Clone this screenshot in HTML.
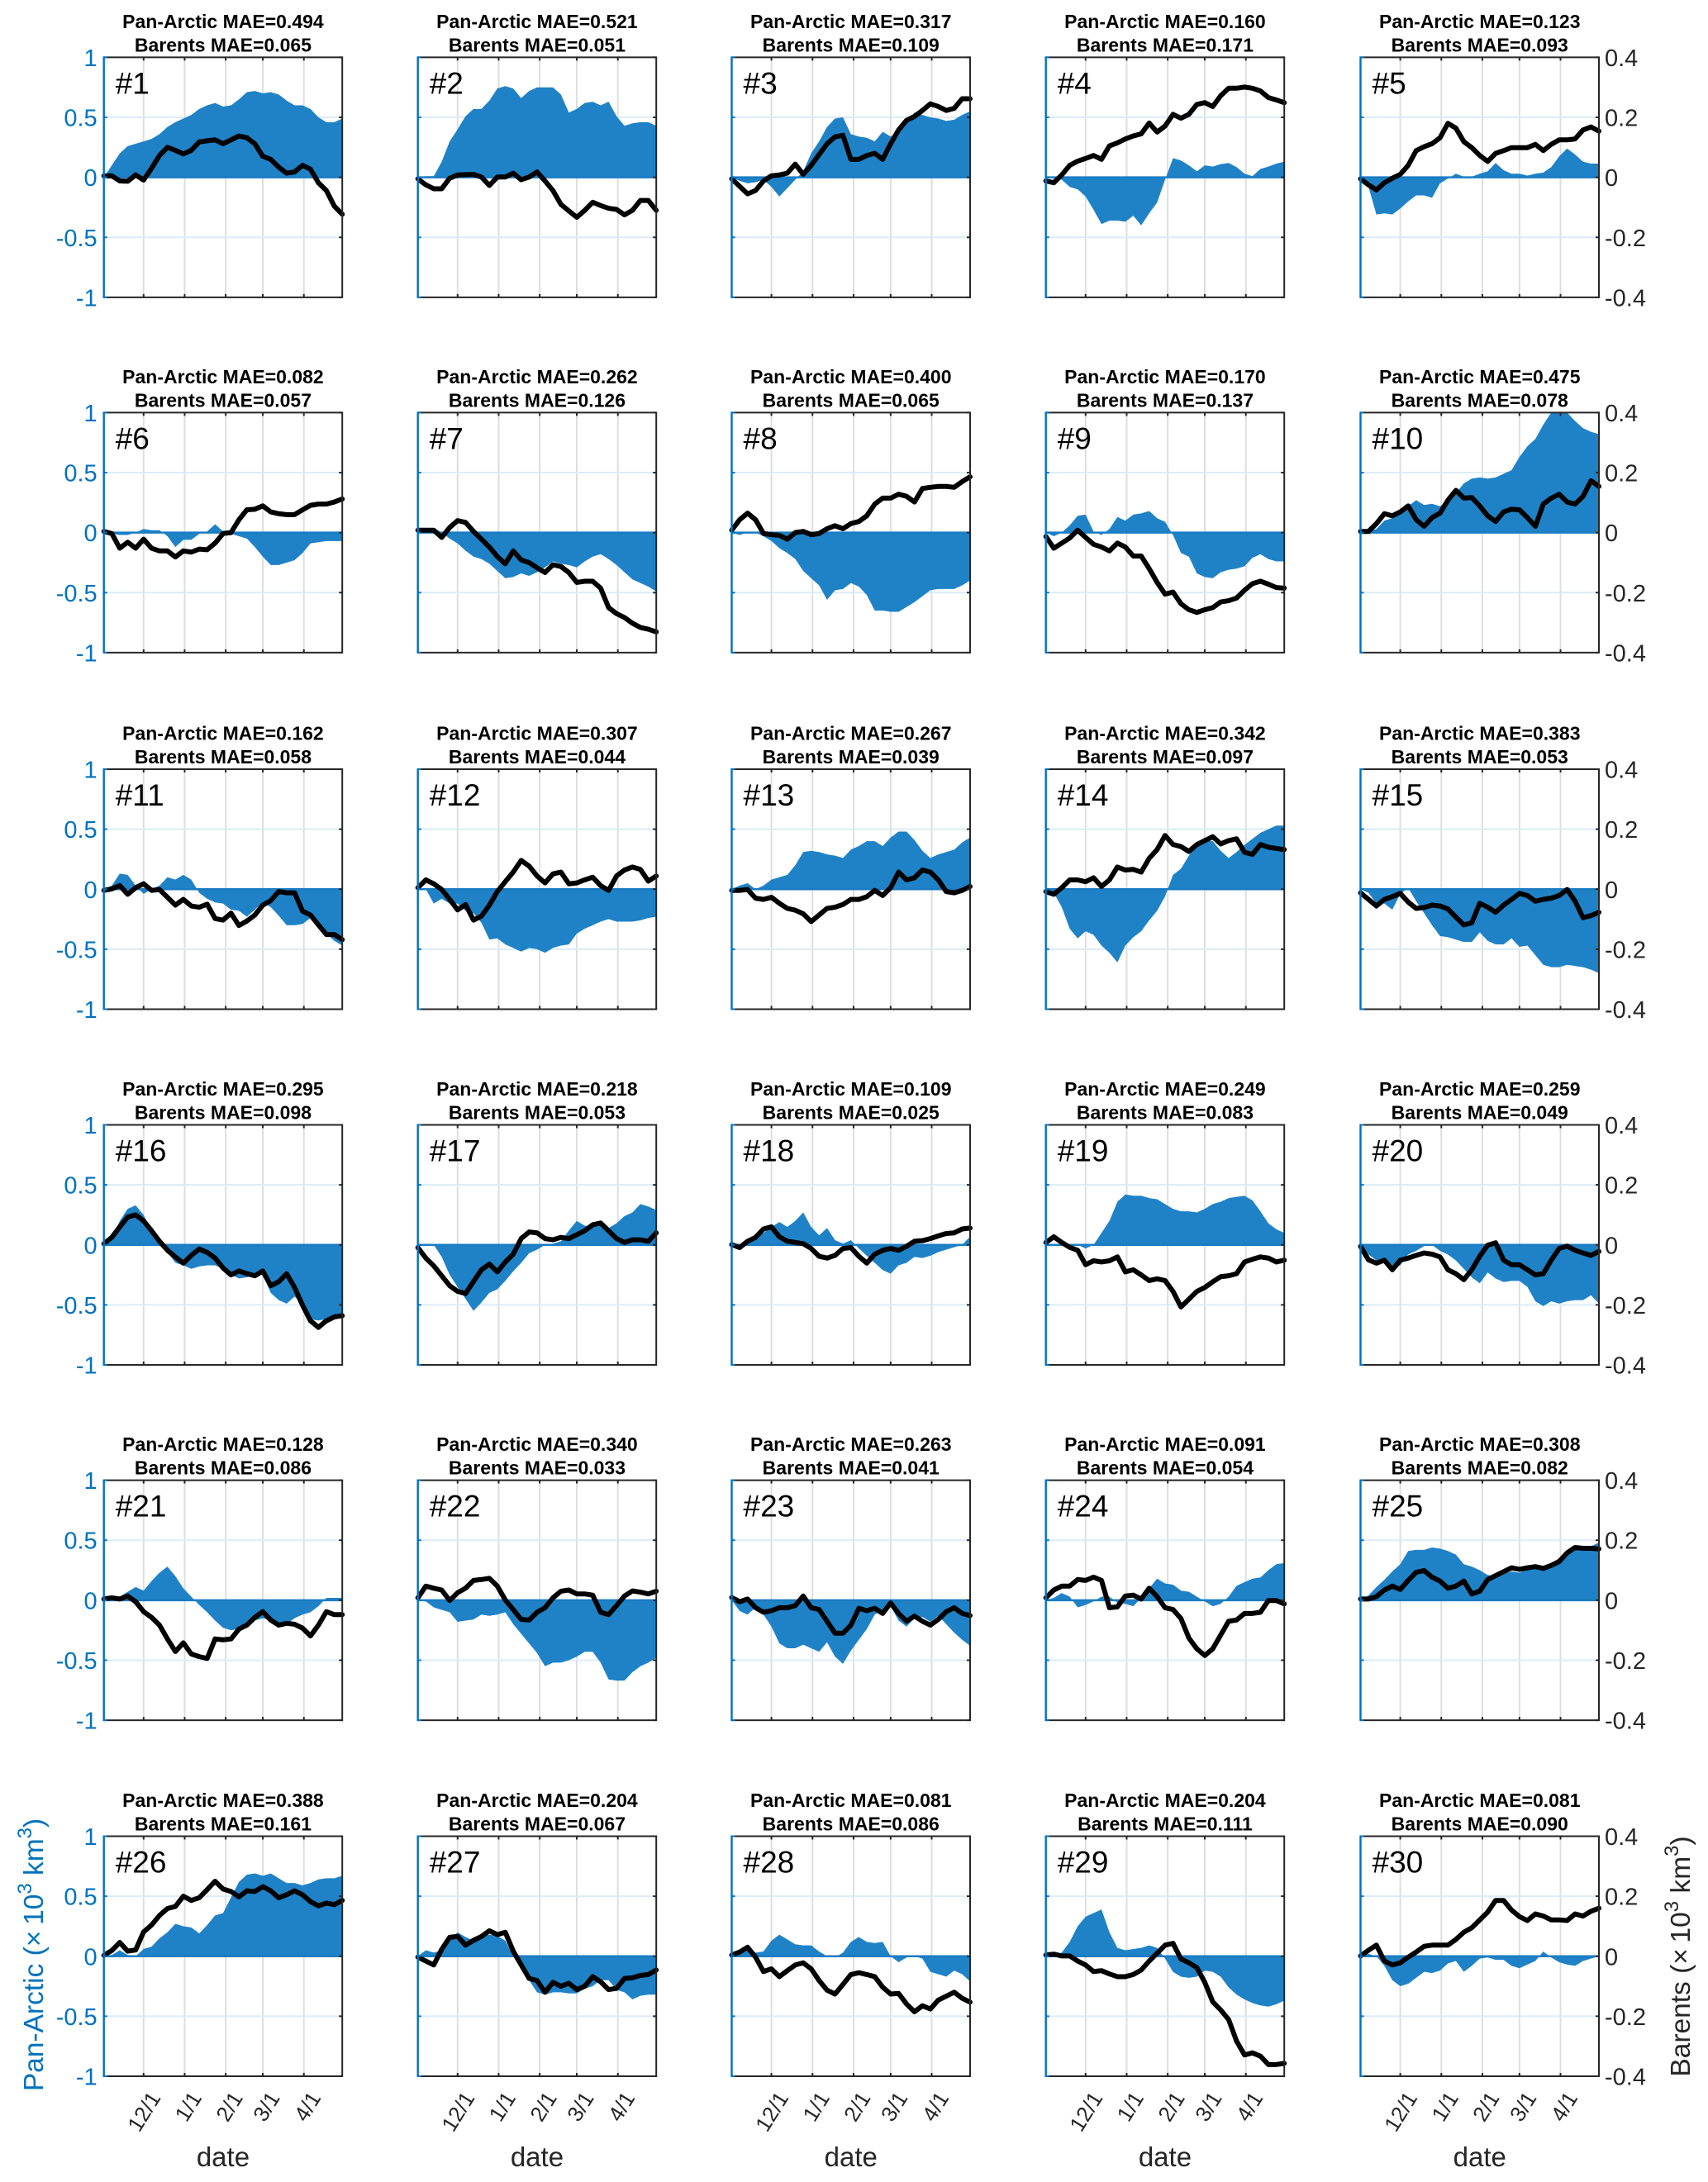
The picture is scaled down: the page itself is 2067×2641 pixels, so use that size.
<!DOCTYPE html>
<html lang="en">
<head>
<meta charset="utf-8">
<title>Pan-Arctic and Barents panels</title>
<style>
html,body{margin:0;padding:0;background:#fff}
svg{display:block}
text{font-family:"Liberation Sans",Arial,sans-serif}
</style>
</head>
<body>
<svg id="figure" xmlns="http://www.w3.org/2000/svg" width="2067" height="2641" viewBox="0 0 2067 2641">
<rect x="0" y="0" width="2067" height="2641" fill="#ffffff"/>
</svg>
<script>
const maePan = [.494,.521,.317,.160,.123,.082,.262,.400,.170,.475,.162,.307,.267,.342,.383,.295,.218,.109,.249,.259,.128,.340,.263,.091,.308,.388,.204,.081,.204,.081];
const maeBar = [.065,.051,.109,.171,.093,.057,.126,.065,.137,.078,.058,.044,.039,.097,.053,.098,.053,.025,.083,.049,.086,.033,.041,.054,.082,.161,.067,.086,.111,.090];
const monthTickDays = [30,61,92,120,151];
const monthTickLabels = ['12/1','1/1','2/1','3/1','4/1'];
const leftTicks = [1,0.5,0,-0.5,-1];
const rightTicks = [0.4,0.2,0,-0.2,-0.4];

const pan1 = [0,.10,.20,.26,.28,.30,.32,.36,.42,.46,.49,.52,.57,.60,.62,.59,.60,.65,.71,.72,.70,.71,.69,.64,.60,.60,.57,.50,.46,.46,.49];
const bar1 = [.005,.005,-.012,-.013,.008,-.009,.03,.073,.1,.09,.078,.09,.118,.122,.125,.112,.125,.138,.132,.112,.07,.06,.034,.014,.018,.04,.027,-.018,-.044,-.096,-.123];
const pan2 = [0,.01,.01,.13,.30,.40,.51,.57,.57,.64,.74,.76,.74,.66,.72,.75,.75,.75,.69,.54,.57,.62,.63,.60,.63,.51,.43,.45,.46,.46,.43];
const bar2 = [-.005,-.025,-.038,-.038,-.003,.008,.009,.01,.001,-.027,.001,.001,.014,-.008,.001,.018,-.012,-.044,-.09,-.112,-.133,-.11,-.083,-.094,-.103,-.107,-.125,-.11,-.077,-.077,-.11];
const pan3 = [0,-.03,-.05,-.04,-.02,-.08,-.16,-.09,-.02,.05,.2,.3,.42,.49,.5,.36,.34,.33,.3,.38,.34,.38,.46,.54,.52,.5,.49,.47,.48,.52,.55];
const bar3 = [-.005,-.03,-.055,-.044,-.012,.005,.008,.014,.044,.01,.04,.076,.112,.135,.14,.06,.06,.073,.08,.06,.112,.158,.19,.203,.223,.245,.236,.223,.23,.262,.262];
const pan4 = [0,-.01,-.02,-.08,-.1,-.16,-.27,-.39,-.36,-.36,-.37,-.32,-.4,-.3,-.21,-.02,.16,.14,.1,.05,.1,.09,.11,.12,.085,.03,.01,.07,.09,.115,.13];
const bar4 = [-.012,-.018,.008,.04,.054,.063,.073,.06,.105,.115,.128,.138,.145,.181,.151,.171,.21,.197,.21,.243,.249,.236,.272,.297,.297,.301,.297,.288,.266,.258,.249];
const pan5 = [0,-.08,-.31,-.3,-.31,-.26,-.2,-.15,-.15,-.17,-.05,-.01,.03,.005,.005,.03,.05,.12,.06,.03,.03,.015,.03,.04,.085,.175,.24,.19,.13,.115,.115];
const bar5 = [-.005,-.025,-.042,-.018,-.003,.01,.04,.089,.102,.112,.132,.18,.164,.119,.099,.073,.053,.08,.089,.099,.099,.099,.11,.089,.11,.125,.125,.128,.158,.168,.154];
const pan6 = [0,-.01,-.02,-.02,0,.03,.02,.02,-.03,-.12,-.06,-.06,-.01,.01,.07,.01,-.01,-.03,-.05,-.12,-.2,-.27,-.27,-.25,-.23,-.17,-.09,-.08,-.07,-.07,-.07];
const bar6 = [.004,-.003,-.052,-.032,-.052,-.022,-.052,-.061,-.061,-.081,-.061,-.065,-.055,-.057,-.035,-.003,0,.043,.076,.078,.089,.069,.063,.06,.06,.076,.091,.095,.095,.102,.112];
const pan7 = [0,.03,.04,0,-.05,-.09,-.15,-.2,-.22,-.26,-.32,-.38,-.37,-.34,-.36,-.33,-.29,-.24,-.26,-.27,-.29,-.24,-.2,-.18,-.22,-.27,-.33,-.39,-.42,-.45,-.49];
const bar7 = [.008,.008,.008,-.016,.017,.04,.034,.004,-.022,-.048,-.08,-.104,-.061,-.091,-.1,-.117,-.133,-.107,-.113,-.133,-.166,-.162,-.162,-.185,-.25,-.27,-.283,-.302,-.316,-.322,-.331];
const pan8 = [0,-.02,0,0,-.03,-.07,-.13,-.17,-.22,-.32,-.38,-.44,-.56,-.48,-.47,-.42,-.45,-.52,-.65,-.65,-.66,-.66,-.62,-.58,-.53,-.48,-.47,-.47,-.47,-.44,-.4];
const bar8 = [.008,.043,.065,.043,-.003,-.007,-.009,-.022,0,.004,-.007,-.003,.013,.023,.013,.03,.037,.056,.095,.115,.115,.128,.121,.102,.147,.151,.154,.154,.151,.17,.186];
const pan9 = [0,-.03,0,.06,.14,.15,.01,-.02,.03,.13,.1,.15,.16,.18,.12,.09,-.02,-.17,-.2,-.34,-.37,-.38,-.33,-.31,-.3,-.28,-.21,-.18,-.22,-.24,-.24];
const bar9 = [-.013,-.052,-.035,-.018,.008,-.016,-.039,-.048,-.061,-.035,-.048,-.078,-.078,-.12,-.166,-.205,-.198,-.237,-.257,-.266,-.257,-.25,-.231,-.227,-.218,-.192,-.17,-.162,-.172,-.183,-.185];
const pan10 = [0,.01,.03,.1,.12,.17,.22,.27,.23,.24,.22,.27,.33,.41,.45,.46,.45,.46,.49,.52,.63,.72,.78,.9,1,1,1,.93,.87,.84,.82];
const bar10 = [.004,.004,.03,.063,.056,.069,.089,.043,.021,.05,.065,.108,.141,.115,.117,.089,.056,.037,.069,.078,.076,.05,.021,.095,.115,.128,.102,.095,.121,.173,.154];
const pan11 = [0,.03,.13,.12,.03,-.04,0,.03,.1,.08,.12,.08,-.03,-.08,-.11,-.12,-.17,-.18,-.23,-.17,-.11,-.15,-.22,-.3,-.3,-.29,-.24,-.3,-.37,-.43,-.47];
const bar11 = [-.004,.001,.012,-.017,.005,.018,-.004,-.001,-.027,-.053,-.034,-.056,-.06,-.05,-.098,-.103,-.08,-.121,-.106,-.086,-.053,-.038,-.008,-.012,-.012,-.073,-.086,-.119,-.151,-.151,-.168];
const pan12 = [0,0,-.12,-.08,-.12,-.12,-.18,-.2,-.28,-.42,-.41,-.46,-.49,-.52,-.49,-.5,-.53,-.49,-.47,-.46,-.37,-.33,-.3,-.27,-.25,-.27,-.27,-.27,-.26,-.24,-.23];
const bar12 = [.005,.031,.018,-.001,-.034,-.069,-.051,-.103,-.09,-.053,-.008,.025,.057,.096,.077,.044,.021,.051,.057,.018,.021,.031,.04,.012,-.004,.044,.064,.074,.066,.027,.044];
const pan13 = [0,.03,.05,0,.03,.08,.1,.12,.2,.31,.32,.31,.29,.28,.26,.33,.36,.4,.4,.36,.43,.48,.48,.41,.32,.26,.29,.31,.33,.39,.43];
const bar13 = [-.004,-.004,-.001,-.03,-.034,-.027,-.047,-.064,-.07,-.082,-.108,-.086,-.064,-.06,-.051,-.034,-.034,-.025,-.004,-.021,.005,.057,.031,.038,.064,.057,.031,-.008,-.012,-.004,.009];
const pan14 = [0,-.03,-.15,-.33,-.41,-.35,-.38,-.47,-.53,-.61,-.47,-.4,-.35,-.26,-.18,-.06,.12,.17,.28,.38,.41,.4,.32,.26,.31,.37,.42,.47,.5,.53,.53];
const bar14 = [-.008,-.017,.005,.031,.031,.025,.038,.009,.031,.074,.064,.066,.057,.103,.132,.179,.149,.142,.126,.149,.162,.175,.151,.162,.168,.123,.116,.149,.14,.136,.132];
const pan15 = [0,-.03,-.12,-.12,-.17,-.04,.01,-.1,-.2,-.3,-.39,-.4,-.42,-.44,-.44,-.36,-.43,-.46,-.46,-.41,-.48,-.47,-.55,-.63,-.65,-.65,-.63,-.64,-.65,-.67,-.7];
const bar15 = [-.012,-.034,-.056,-.034,-.025,-.014,-.043,-.064,-.061,-.053,-.056,-.066,-.093,-.119,-.112,-.047,-.06,-.077,-.053,-.034,-.014,-.021,-.04,-.034,-.03,-.021,-.001,-.04,-.095,-.088,-.077];
const pan16 = [0,.05,.2,.3,.33,.25,.12,.03,-.06,-.15,-.17,-.2,-.18,-.17,-.17,-.2,-.25,-.28,-.27,-.25,-.25,-.4,-.46,-.49,-.43,-.5,-.62,-.63,-.62,-.6,-.58];
const bar16 = [.004,.025,.06,.093,.1,.08,.047,.012,-.018,-.04,-.061,-.035,-.014,-.025,-.044,-.077,-.1,-.087,-.096,-.103,-.087,-.136,-.123,-.096,-.142,-.201,-.253,-.275,-.253,-.24,-.236];
const pan17 = [0,0,0,-.1,-.25,-.35,-.45,-.55,-.48,-.4,-.37,-.3,-.22,-.15,-.07,-.04,0,.01,.03,.12,.2,.16,.15,.2,.14,.18,.24,.27,.34,.32,.29];
const bar17 = [-.009,-.044,-.07,-.103,-.136,-.155,-.162,-.122,-.083,-.064,-.09,-.057,-.031,.021,.043,.04,.021,.017,.025,.021,.034,.047,.067,.073,.047,.021,.008,.017,.017,.012,.04];
const pan18 = [0,0,.02,.06,.1,.15,.19,.15,.2,.27,.15,.08,.14,.04,.01,.04,-.03,-.09,-.15,-.21,-.24,-.17,-.15,-.1,-.11,-.09,-.06,-.04,-.02,0,.07];
const bar18 = [.001,-.009,.012,.025,.053,.06,.027,.012,.008,.004,-.012,-.038,-.044,-.035,-.012,-.009,-.038,-.061,-.031,-.018,-.012,-.018,-.005,.012,.014,.021,.03,.038,.04,.053,.056];
const pan19 = [0,0,0,0,0,-.03,0,.1,.2,.36,.42,.41,.41,.39,.38,.34,.3,.28,.28,.27,.3,.34,.36,.39,.4,.41,.37,.28,.18,.13,.1];
const bar19 = [.008,.027,.008,-.008,-.018,-.066,-.053,-.057,-.053,-.04,-.09,-.083,-.1,-.119,-.113,-.119,-.155,-.207,-.181,-.155,-.142,-.123,-.106,-.103,-.096,-.057,-.048,-.04,-.044,-.057,-.051];
const pan20 = [0,-.08,-.13,-.13,-.2,-.17,-.08,-.05,-.01,0,-.05,-.08,-.13,-.2,-.27,-.32,-.23,-.28,-.31,-.3,-.3,-.35,-.47,-.51,-.47,-.49,-.47,-.46,-.46,-.42,-.49];
const bar20 = [-.005,-.05,-.061,-.051,-.083,-.051,-.044,-.035,-.027,-.031,-.04,-.083,-.096,-.116,-.083,-.038,-.001,.007,-.051,-.066,-.066,-.083,-.1,-.096,-.051,-.012,-.004,-.018,-.027,-.035,-.022];
const pan21 = [0,.01,.03,.07,.11,.08,.16,.23,.28,.2,.1,.03,-.04,-.1,-.17,-.23,-.25,-.24,-.2,-.17,-.15,-.17,-.2,-.2,-.15,-.12,-.1,-.05,.02,.02,.02];
const bar21 = [.004,.008,.004,.014,-.005,-.038,-.057,-.083,-.129,-.171,-.142,-.179,-.188,-.194,-.129,-.132,-.129,-.096,-.083,-.057,-.038,-.066,-.083,-.077,-.08,-.093,-.119,-.083,-.038,-.048,-.048];
const pan22 = [0,-.01,-.06,-.08,-.1,-.18,-.17,-.16,-.12,-.13,-.12,-.1,-.2,-.28,-.36,-.44,-.55,-.52,-.52,-.5,-.47,-.43,-.43,-.52,-.66,-.67,-.67,-.6,-.55,-.52,-.48];
const bar22 = [.008,.047,.04,.034,-.001,.025,.04,.066,.069,.073,.047,.001,-.031,-.064,-.066,-.04,-.025,.008,.03,.034,.021,.021,.017,-.04,-.048,-.018,.014,.031,.027,.021,.03];
const pan23 = [0,-.09,-.12,-.06,-.12,-.22,-.36,-.4,-.4,-.37,-.4,-.43,-.35,-.47,-.53,-.42,-.33,-.24,-.12,-.08,-.05,-.17,-.22,-.15,-.14,-.18,-.13,-.2,-.27,-.33,-.38];
const bar23 = [.009,-.005,.004,-.025,-.04,-.035,-.025,-.025,-.018,.014,-.025,-.031,-.07,-.11,-.11,-.083,-.027,-.035,-.027,-.044,-.009,-.044,-.07,-.053,-.07,-.083,-.064,-.038,-.025,-.044,-.051];
const pan24 = [0,.02,.06,.03,-.06,-.04,-.01,.03,.03,-.02,-.03,-.05,.02,.1,.18,.14,.13,.08,.07,.03,-.01,-.05,-.03,.03,.12,.15,.18,.19,.25,.3,.31];
const bar24 = [.008,.034,.047,.047,.069,.066,.077,.066,-.025,-.022,.014,.017,.004,.04,.012,-.025,-.031,-.061,-.126,-.162,-.184,-.162,-.116,-.07,-.066,-.044,-.044,-.04,-.001,-.001,-.012];
const pan25 = [0,.04,.11,.17,.24,.3,.41,.42,.42,.44,.43,.41,.38,.3,.28,.25,.21,.2,.22,.24,.23,.26,.27,.26,.31,.35,.41,.45,.45,.45,.48];
const bar25 = [.004,.004,.012,.034,.047,.036,.066,.093,.099,.077,.064,.04,.047,.064,.021,.03,.069,.082,.095,.108,.103,.108,.112,.106,.116,.129,.158,.176,.173,.173,.171];
const pan26 = [0,.01,.05,.01,0,.06,.08,.15,.2,.27,.25,.24,.19,.26,.34,.36,.49,.62,.68,.69,.67,.69,.65,.61,.61,.59,.61,.64,.65,.65,.67];
const bar26 = [.003,.019,.046,.017,.021,.081,.104,.136,.159,.166,.2,.186,.195,.222,.25,.224,.216,.198,.218,.216,.232,.218,.195,.205,.218,.205,.182,.168,.177,.172,.186];
const pan27 = [0,.05,.03,.05,.13,.2,.16,.13,.16,.18,.17,.13,0,-.1,-.2,-.3,-.32,-.3,-.3,-.31,-.31,-.27,-.25,-.2,-.2,-.28,-.3,-.36,-.33,-.32,-.32];
const bar27 = [-.003,-.016,-.029,.023,.063,.066,.037,.053,.066,.085,.072,.08,.017,-.029,-.074,-.081,-.12,-.087,-.1,-.09,-.111,-.1,-.068,-.085,-.111,-.107,-.074,-.072,-.064,-.061,-.046];
const pan28 = [0,.03,.07,.03,.04,.13,.18,.14,.1,.09,.09,.04,0,-.01,.03,.12,.16,.12,.11,.12,0,-.05,-.01,0,-.02,-.13,-.15,-.17,-.12,-.15,-.21];
const bar28 = [.004,.014,.03,-.003,-.051,-.042,-.068,-.048,-.029,-.022,-.042,-.081,-.113,-.126,-.094,-.061,-.055,-.061,-.068,-.103,-.126,-.124,-.159,-.185,-.165,-.176,-.146,-.133,-.12,-.14,-.153];
const pan29 = [0,.01,.03,.12,.25,.33,.36,.39,.2,.07,.05,.06,.07,.09,.07,-.02,-.13,-.17,-.18,-.17,-.12,-.13,-.17,-.26,-.32,-.36,-.39,-.41,-.42,-.4,-.37];
const bar29 = [.004,.007,.001,.001,-.016,-.029,-.051,-.048,-.059,-.068,-.068,-.061,-.046,-.016,.01,.037,.043,-.009,-.022,-.038,-.087,-.152,-.179,-.211,-.283,-.329,-.322,-.333,-.361,-.361,-.357];
const pan30 = [0,.02,0,-.08,-.2,-.25,-.23,-.18,-.13,-.14,-.12,-.06,-.04,-.13,-.08,-.02,-.01,-.03,-.03,-.08,-.1,-.07,-.04,.04,-.01,-.05,-.07,-.08,-.04,-.02,0];
const bar30 = [.001,.02,.037,-.016,-.029,-.022,-.003,.014,.033,.037,.037,.037,.056,.08,.095,.121,.147,.186,.186,.154,.132,.119,.141,.134,.121,.121,.119,.141,.134,.15,.16];

const panSeries = [pan1,pan2,pan3,pan4,pan5,pan6,pan7,pan8,pan9,pan10,pan11,pan12,pan13,pan14,pan15,pan16,pan17,pan18,pan19,pan20,pan21,pan22,pan23,pan24,pan25,pan26,pan27,pan28,pan29,pan30];
const barSeries = [bar1,bar2,bar3,bar4,bar5,bar6,bar7,bar8,bar9,bar10,bar11,bar12,bar13,bar14,bar15,bar16,bar17,bar18,bar19,bar20,bar21,bar22,bar23,bar24,bar25,bar26,bar27,bar28,bar29,bar30];

const NS = 'http://www.w3.org/2000/svg';
const svg = document.getElementById('figure');
const colLefts = [125.7,505.7,885.5,1265.7,1646.5];
const rowTops = [69.4,499.4,931,1361.5,1791.6,2222.5];
const plotW = 288.5, plotH = 290.5, dayStep = 6, dayMax = 180;
const BLUE = '#0072BD', FILL = '#1f82c6', DARK = '#262626';

function mk(parent, tag, attrs, txt) {
  const e = document.createElementNS(NS, tag);
  for (const k in attrs) e.setAttribute(k, attrs[k]);
  if (txt !== undefined) e.textContent = txt;
  parent.appendChild(e);
  return e;
}

panSeries.forEach(function (pan, idx) {
  const num = idx + 1;
  const col = idx % 5, row = Math.floor(idx / 5);
  const L = colLefts[col], T = rowTops[row], R = L + plotW, B = T + plotH;
  const xOf = function (d) { return L + d / dayMax * plotW; };
  const yPan = function (v) { return T + (1 - v) / 2 * plotH; };
  const yBar = function (v) { return T + (0.4 - v) / 0.8 * plotH; };

  const g = mk(svg, 'g', {});
  
  

  const clip = mk(g, 'clipPath', { id: 'clip' + num });
  mk(clip, 'rect', { x: L, y: T, width: plotW, height: plotH });

  monthTickDays.forEach(function (d) {
    const gl = mk(g, 'line', { x1: xOf(d), x2: xOf(d), y1: T, y2: B, stroke: '#dcdee0', 'stroke-width': 2 });
    
    
  });
  [0.5, -0.5].forEach(function (v) {
    const gl = mk(g, 'line', { x1: L, x2: R, y1: yPan(v), y2: yPan(v), stroke: '#dcecf7', 'stroke-width': 2 });
    
    
  });

  let d = 'M' + xOf(0) + ' ' + yPan(0);
  pan.forEach(function (v, i) { d += 'L' + xOf(i * dayStep).toFixed(2) + ' ' + yPan(v).toFixed(2); });
  d += 'L' + xOf((pan.length - 1) * dayStep) + ' ' + yPan(0) + 'Z';
  const area = mk(g, 'path', { d: d, fill: FILL, 'clip-path': 'url(#clip' + num + ')' });
  
  

  const zero = mk(g, 'line', { x1: L, x2: R, y1: yPan(0), y2: yPan(0), stroke: '#1a7cc3', 'stroke-width': 2.5 });
  
  

  let ld = '';
  barSeries[idx].forEach(function (v, i) { ld += (i ? 'L' : 'M') + xOf(i * dayStep).toFixed(2) + ' ' + yBar(v).toFixed(2); });
  const line = mk(g, 'path', { d: ld, fill: 'none', stroke: '#000', 'stroke-width': 6, 'stroke-linejoin': 'round', 'stroke-linecap': 'round' });
  
  

  const frame = mk(g, 'path', { d: 'M' + L + ' ' + T + 'H' + R + 'V' + B + 'H' + L, fill: 'none', stroke: '#262626', 'stroke-width': 2 });
  
  
  const leftSpine = mk(g, 'line', { x1: L, x2: L, y1: T - 1, y2: B + 1, stroke: BLUE, 'stroke-width': 2.4 });
  
  

  monthTickDays.forEach(function (td) {
    const t1 = mk(g, 'line', { x1: xOf(td), x2: xOf(td), y1: B, y2: B - 4, stroke: '#262626', 'stroke-width': 2 });
    
    
    const t2 = mk(g, 'line', { x1: xOf(td), x2: xOf(td), y1: T, y2: T + 4, stroke: '#262626', 'stroke-width': 2 });
    
    
  });
  leftTicks.forEach(function (v) {
    const t1 = mk(g, 'line', { x1: L, x2: L + 4, y1: yPan(v), y2: yPan(v), stroke: BLUE, 'stroke-width': 2 });
    
    
    const t2 = mk(g, 'line', { x1: R, x2: R - 4, y1: yPan(v), y2: yPan(v), stroke: '#262626', 'stroke-width': 2 });
    
    
  });

  const cx = L + plotW / 2;
  const t1 = mk(g, 'text', { x: cx, y: T - 35.5, 'text-anchor': 'middle', 'font-size': 23, 'font-weight': 'bold', fill: '#000' }, 'Pan-Arctic MAE=' + maePan[idx].toFixed(3));
  
  
  const t2 = mk(g, 'text', { x: cx, y: T - 7, 'text-anchor': 'middle', 'font-size': 23, 'font-weight': 'bold', fill: '#000' }, 'Barents MAE=' + maeBar[idx].toFixed(3));
  
  

  const lab = mk(g, 'text', { x: L + 14, y: T + 44, 'font-size': 37, fill: '#000' }, '#' + num);
  
  

  if (col === 0) {
    leftTicks.forEach(function (v) {
      const tl = mk(g, 'text', { x: L - 8, y: yPan(v) + 10.5, 'text-anchor': 'end', 'font-size': 29, fill: BLUE }, String(v));
      
      
    });
  }
  if (col === 4) {
    rightTicks.forEach(function (v) {
      const tl = mk(g, 'text', { x: R + 7, y: yBar(v) + 10.5, 'font-size': 29, fill: DARK }, String(v));
      
      
    });
  }
  if (row === 5) {
    monthTickDays.forEach(function (td, i) {
      const px = xOf(td) + 21.5, py = B + 26;
      const tl = mk(g, 'text', { x: px, y: py, 'text-anchor': 'end', 'font-size': 26, fill: DARK, transform: 'rotate(-58 ' + px + ' ' + py + ')' }, monthTickLabels[i]);
      
      
    });
    const xl = mk(g, 'text', { x: cx, y: 2622, 'text-anchor': 'middle', 'font-size': 33, fill: DARK }, 'date');
    
    
  }
});

function axisLabel(name, x, y, color, prefix) {
  const t = mk(svg, 'text', { x: x, y: y, 'text-anchor': 'middle', 'font-size': 33.5, fill: color, transform: 'rotate(-90 ' + x + ' ' + y + ')' });
  
  
  mk(t, 'tspan', {}, prefix + ' (\u00d7\u200910');
  mk(t, 'tspan', { dy: -14, 'font-size': 24 }, '3');
  mk(t, 'tspan', { dy: 14 }, ' km');
  mk(t, 'tspan', { dy: -14, 'font-size': 24 }, '3');
  mk(t, 'tspan', { dy: 14 }, ')');
}
axisLabel('left-y-axis-title', 52, 2366, BLUE, 'Pan-Arctic');
axisLabel('right-y-axis-title', 2045, 2368, DARK, 'Barents');
</script>
</body>
</html>
